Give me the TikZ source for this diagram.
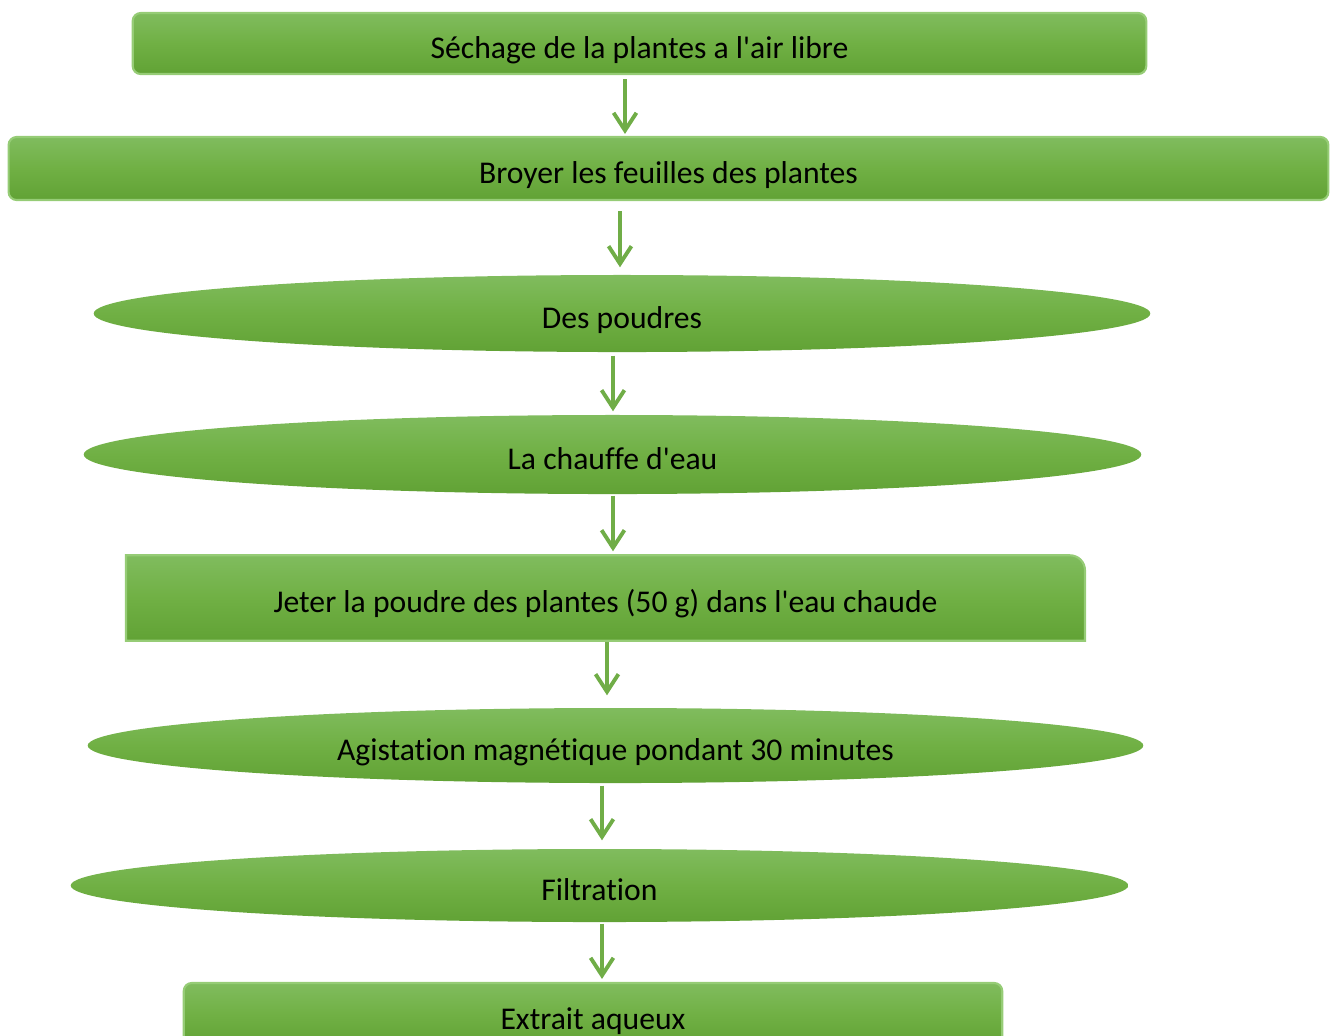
\documentclass[tikz,border=0pt]{standalone}
\usepackage{fontspec}
\setmainfont{Carlito}[Ligatures={TeX,NoCommon}]
\usetikzlibrary{shapes.geometric,arrows.meta,backgrounds}

\definecolor{gtop}{RGB}{128,188,94}
\definecolor{gmid}{RGB}{112,176,68}
\definecolor{gbot}{RGB}{97,162,53}
\definecolor{gedge}{RGB}{150,204,118}
\definecolor{garrow}{RGB}{112,173,71}

\tikzset{
  steptext/.style={font=\fontsize{9}{11}\selectfont, text height=0.34cm, text depth=0.05cm},
  stepbox/.style={rectangle, rounded corners=0.08cm, draw=gedge, line width=0.6pt,
                  top color=gtop, bottom color=gbot, middle color=gmid,
                  inner sep=0, steptext},
  stepoval/.style={ellipse, top color=gtop, bottom color=gbot, middle color=gmid,
                   inner sep=0, steptext},
  flow/.style={-{Straight Barb[length=5pt,width=6.5pt]}, draw=garrow, line width=1.1pt},
}

\begin{document}
\begin{tikzpicture}[x=0.01cm, y=0.01cm]
    % canvas = 1333 x 1035 (one unit = one pixel), y going down as negative
    \useasboundingbox (0,0) rectangle (1333,-1035);
    \clip (0,0) rectangle (1333,-1035);

    % === boxes and ovals, top to bottom ===
    \node[stepbox, minimum width=10.13cm, minimum height=0.61cm]
      (dry) at (639.5,-43.5) {Séchage de la plantes a l\textquotesingle air libre};
    \node[stepbox, minimum width=13.19cm, minimum height=0.63cm]
      (grind) at (668.5,-168.5) {Broyer les feuilles des plantes};
    \node[stepoval, minimum width=10.56cm, minimum height=0.77cm]
      (powder) at (622,-313.5) {Des poudres};
    \node[stepoval, minimum width=10.57cm, minimum height=0.79cm]
      (heat) at (612.5,-454.5) {La chauffe d\textquotesingle eau};
    % only the top right corner is rounded here
    \node[inner sep=0, minimum width=9.57cm, minimum height=0.84cm, steptext]
      (soak) at (605.5,-598) {Jeter la poudre des plantes (50 g) dans l\textquotesingle eau chaude};
    \begin{scope}[on background layer]
      \path[draw=gedge, line width=0.6pt, top color=gtop, bottom color=gbot, middle color=gmid]
        (soak.south west) -- (soak.north west)
        -- ([xshift=-0.15cm]soak.north east) arc[start angle=90, end angle=0, radius=0.15cm]
        -- (soak.south east) -- cycle;
    \end{scope}
    \node[stepoval, minimum width=10.55cm, minimum height=0.75cm]
      (stir) at (615.5,-745.5) {Agistation magnétique pondant 30 minutes};
    \node[stepoval, minimum width=10.57cm, minimum height=0.73cm]
      (filt) at (599.5,-885.5) {Filtration};
    \node[stepbox, minimum width=8.18cm, minimum height=0.64cm]
      (extract) at (593,-1015) {Extrait aqueux};

    % === arrows ===
    \draw[flow, shorten <=0.04cm, shorten >=0.02cm] (dry.south -| 625,0) -- (grind.north -| 625,0);
    \draw[flow, shorten <=0.10cm, shorten >=0.07cm] (grind.south -| 620,0) -- (powder.north -| 620,0);
    \draw[flow, shorten <=0.03cm, shorten >=0.03cm] (powder.south -| 613,0) -- (heat.north -| 613,0);
    \draw[flow, shorten <=0.01cm, shorten >=0.04cm] (heat.south -| 613,0) -- (soak.north -| 613,0);
    \draw[flow, shorten <=0.01cm, shorten >=0.12cm] (soak.south -| 607,0) -- (stir.north -| 607,0);
    \draw[flow, shorten <=0.02cm, shorten >=0.08cm] (stir.south -| 602,0) -- (filt.north -| 602,0);
    \draw[flow, shorten <=0.01cm, shorten >=0.03cm] (filt.south -| 602,0) -- (extract.north -| 602,0);
\end{tikzpicture}
\end{document}
